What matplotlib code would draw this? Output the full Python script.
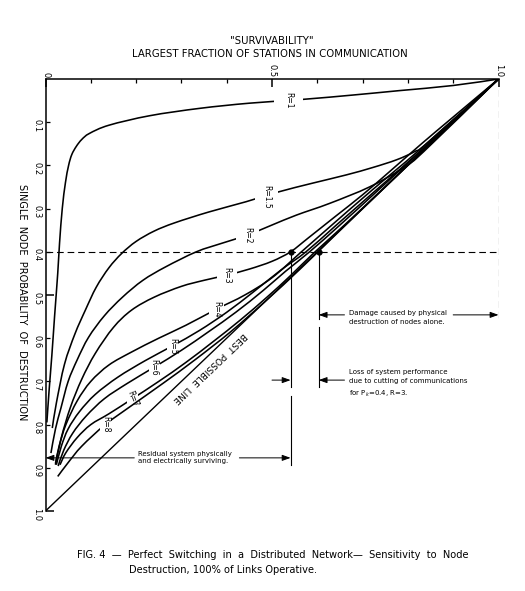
import numpy as np
import matplotlib
matplotlib.use("Agg")
import matplotlib.pyplot as plt
from matplotlib.path import Path
from matplotlib.patches import PathPatch

# Curves: x = largest fraction of stations in communication,
# y = single node probability of destruction
r1_x = [0.003, 0.008, 0.014, 0.020, 0.027, 0.031, 0.037, 0.044, 0.051, 0.058, 0.068,
        0.080, 0.097, 0.140, 0.230, 0.340, 0.450, 0.570, 0.680, 0.780, 0.900, 1.0]
r1_y = [0.795, 0.720, 0.640, 0.550, 0.450, 0.380, 0.300, 0.240, 0.200, 0.175, 0.156,
        0.140, 0.126, 0.107, 0.085, 0.068, 0.056, 0.047, 0.037, 0.027, 0.015, 0.0]

r15_x = [0.015, 0.024, 0.042, 0.065, 0.088, 0.112, 0.140, 0.168, 0.200, 0.240, 0.285,
         0.360, 0.443, 0.512, 0.590, 0.664, 0.722, 0.775, 0.815, 0.845, 1.0]
r15_y = [0.808, 0.750, 0.660, 0.590, 0.535, 0.482, 0.437, 0.404, 0.376, 0.352, 0.333,
         0.308, 0.284, 0.262, 0.241, 0.222, 0.205, 0.187, 0.168, 0.146, 0.0]

r2_x = [0.012, 0.022, 0.034, 0.050, 0.070, 0.095, 0.130, 0.170, 0.215, 0.265, 0.333,
        0.390, 0.446, 0.500, 0.554, 0.627, 0.715, 0.788, 0.835, 1.0]
r2_y = [0.866, 0.810, 0.762, 0.700, 0.650, 0.598, 0.548, 0.505, 0.466, 0.435, 0.400,
        0.380, 0.361, 0.338, 0.315, 0.288, 0.250, 0.207, 0.168, 0.0]

r3_x = [0.022, 0.035, 0.055, 0.080, 0.110, 0.150, 0.190, 0.240, 0.300, 0.350, 0.400,
        0.450, 0.500, 0.541, 0.580, 0.640, 0.700, 0.760, 0.830, 0.900, 1.0]
r3_y = [0.893, 0.830, 0.760, 0.695, 0.635, 0.575, 0.535, 0.505, 0.480, 0.466, 0.454,
        0.440, 0.422, 0.400, 0.368, 0.318, 0.268, 0.214, 0.150, 0.088, 0.0]

r4_x = [0.022, 0.030, 0.045, 0.070, 0.100, 0.140, 0.190, 0.250, 0.310, 0.377, 0.440,
        0.500, 0.565, 0.630, 0.720, 0.830, 1.0]
r4_y = [0.890, 0.850, 0.800, 0.745, 0.700, 0.662, 0.632, 0.600, 0.570, 0.533, 0.500,
        0.460, 0.400, 0.340, 0.258, 0.160, 0.0]

r5_x = [0.024, 0.035, 0.050, 0.075, 0.110, 0.160, 0.220, 0.280, 0.340, 0.400, 0.460,
        0.520, 0.575, 0.640, 0.730, 0.840, 1.0]
r5_y = [0.893, 0.850, 0.810, 0.770, 0.730, 0.690, 0.652, 0.618, 0.582, 0.540, 0.492,
        0.442, 0.400, 0.340, 0.257, 0.155, 0.0]

r6_x = [0.028, 0.040, 0.060, 0.090, 0.130, 0.180, 0.240, 0.300, 0.360, 0.420, 0.480,
        0.530, 0.583, 0.650, 0.740, 0.850, 1.0]
r6_y = [0.896, 0.860, 0.820, 0.780, 0.740, 0.705, 0.667, 0.628, 0.585, 0.540, 0.490,
        0.445, 0.400, 0.338, 0.252, 0.146, 0.0]

r7_x = [0.032, 0.045, 0.070, 0.100, 0.140, 0.192, 0.250, 0.310, 0.370, 0.430, 0.490,
        0.540, 0.590, 0.660, 0.750, 0.860, 1.0]
r7_y = [0.893, 0.865, 0.830, 0.800, 0.775, 0.740, 0.700, 0.656, 0.608, 0.558, 0.504,
        0.456, 0.405, 0.338, 0.249, 0.139, 0.0]

r8_x = [0.027, 0.050, 0.080, 0.132, 0.190, 0.260, 0.330, 0.410, 0.490, 0.560, 0.630,
        0.730, 0.860, 1.0]
r8_y = [0.920, 0.888, 0.850, 0.800, 0.756, 0.704, 0.650, 0.584, 0.510, 0.442, 0.371,
        0.270, 0.140, 0.0]

curves_x = [r1_x, r15_x, r2_x, r3_x, r4_x, r5_x, r6_x, r7_x, r8_x]
curves_y = [r1_y, r15_y, r2_y, r3_y, r4_y, r5_y, r6_y, r7_y, r8_y]
curve_names = ['R=1', 'R=1.5', 'R=2', 'R=3', 'R=4', 'R=5', 'R=6', 'R=7', 'R=8']
label_x = [0.537, 0.488, 0.446, 0.400, 0.377, 0.280, 0.240, 0.192, 0.132]
label_y = [0.049, 0.272, 0.362, 0.454, 0.533, 0.618, 0.667, 0.740, 0.800]
label_rot = [-90, -90, -90, -90, -90, -90, -90, -68, -90]

best_x = [0.0, 1.0]
best_y = [1.0, 0.0]

# P_k = 0.4, R = 3 example
pk = 0.4
dot_x = [0.541, 0.603]

x_ticks = [0.0, 0.5, 1.0]
x_tick_labels = ['0', '0.5', '1.0']
x_minor = [0.1, 0.2, 0.3, 0.4, 0.6, 0.7, 0.8, 0.9]
y_ticks = [0.5, 1.0]
y_tick_labels = ['0.5', '1.0']
y_minor = [0.1, 0.2, 0.3, 0.4, 0.6, 0.7, 0.8, 0.9]
y_minor_labels = ['0.1', '0.2', '0.3', '0.4', '0.6', '0.7', '0.8', '0.9']


def smooth_path(xs, ys):
    # Catmull-Rom through the read points, drawn as cubic Beziers
    pts = np.column_stack([xs, ys])
    p = np.vstack([pts[0], pts, pts[-1]])
    verts = [pts[0]]
    codes = [Path.MOVETO]
    for i in range(1, len(p) - 2):
        c1 = p[i] + (p[i + 1] - p[i - 1]) / 6
        c2 = p[i + 1] - (p[i + 2] - p[i]) / 6
        verts += [c1, c2, p[i + 1]]
        codes += [Path.CURVE4] * 3
    return Path(verts, codes)


def gap_path(xc, yc, hw, hh):
    # whole plane minus a small box round a curve label
    outer = [(-1, -1), (2, -1), (2, 2), (-1, 2), (-1, -1)]
    inner = [(xc - hw, yc - hh), (xc - hw, yc + hh), (xc + hw, yc + hh),
             (xc + hw, yc - hh), (xc - hw, yc - hh)]
    codes = [Path.MOVETO, Path.LINETO, Path.LINETO, Path.LINETO, Path.CLOSEPOLY]
    return Path(outer + inner, codes + codes)


fig = plt.figure(figsize=(5.25, 5.91), dpi=100)
ax = fig.add_axes([45.5 / 525, 80 / 591, 453 / 525, 432 / 591])
ax.set_xlim(0, 1)
ax.set_ylim(1, 0)

gap_w = [0.032, 0.026, 0.026, 0.022, 0.016, 0.012, 0.012, 0.012, 0.012]
for cx, cy, name, lx, ly, rot, gw in zip(curves_x, curves_y, curve_names,
                                        label_x, label_y, label_rot, gap_w):
    patch = PathPatch(smooth_path(cx, cy), fill=False, ec='k', lw=1.15,
                      capstyle='butt', joinstyle='round')
    ax.add_patch(patch)
    patch.set_clip_path(gap_path(lx, ly, gw, 0.02), ax.transData)
    ax.text(lx, ly, name, rotation=rot, ha='center', va='center', fontsize=5.5)

ax.plot(best_x, best_y, color='k', lw=1.0)

# text along the best possible line
p0 = ax.transData.transform((best_x[0], best_y[0]))
p1 = ax.transData.transform((best_x[1], best_y[1]))
ang = np.degrees(np.arctan2(p0[1] - p1[1], p0[0] - p1[0]))
ax.text(0.362, 0.668, 'BEST  POSSIBLE  LINE', rotation=ang, rotation_mode='anchor',
        ha='center', va='center', fontsize=6.5)

# dashed guides
dash = (0, (6, 3.5))
ax.plot([0, 1], [pk, pk], color='k', lw=0.8, ls=dash)
ax.plot([1, 1], [0, 0.555], color='k', lw=0.8, ls=dash)
ax.plot(dot_x, [pk, pk], 'o', color='k', ms=3.5)

# dimension lines
ax.plot([dot_x[0], dot_x[0]], [pk, 0.713], color='k', lw=0.8)
ax.plot([dot_x[0], dot_x[0]], [0.733, 0.893], color='k', lw=0.8)
ax.plot([dot_x[1], dot_x[1]], [pk, 0.556], color='k', lw=0.8)
ax.plot([dot_x[1], dot_x[1]], [0.574, 0.713], color='k', lw=0.8)

arrow = dict(arrowstyle='-|>,head_length=0.5,head_width=0.18', color='k', lw=0.7,
             shrinkA=0, shrinkB=0)
ax.annotate('', xy=(dot_x[1], 0.546), xytext=(0.66, 0.546), arrowprops=arrow)
ax.annotate('', xy=(1.0, 0.546), xytext=(0.90, 0.546), arrowprops=arrow)
ax.annotate('', xy=(dot_x[1], 0.697), xytext=(0.66, 0.697), arrowprops=arrow)
ax.annotate('', xy=(dot_x[0], 0.697), xytext=(0.50, 0.697), arrowprops=arrow)
ax.annotate('', xy=(0.0, 0.877), xytext=(0.196, 0.877), arrowprops=arrow)
ax.annotate('', xy=(dot_x[0], 0.877), xytext=(0.428, 0.877), arrowprops=arrow)

ax.text(0.671, 0.551, 'Damage caused by physical\ndestruction of nodes alone.',
        ha='left', va='center', fontsize=5, linespacing=1.6)
ax.text(0.671, 0.706, 'Loss of system performance\ndue to cutting of communications\n'
        'for P$_k$=0.4, R=3.', ha='left', va='center', fontsize=5, linespacing=1.6)
ax.text(0.205, 0.876, 'Residual system physically\nand electrically surviving.',
        ha='left', va='center', fontsize=5, linespacing=1.3)

# axes on top and left only
for side in ['right', 'bottom']:
    ax.spines[side].set_visible(False)
for side in ['left', 'top']:
    ax.spines[side].set_linewidth(1.1)

ax.xaxis.set_ticks_position('top')
ax.set_xticks(x_ticks, labels=x_tick_labels)
ax.set_xticks(x_minor, minor=True)
ax.set_yticks(y_ticks, labels=y_tick_labels)
ax.set_yticks(y_minor, labels=y_minor_labels, minor=True)
ax.tick_params(axis='x', which='major', direction='in', length=6, width=1.1, pad=1,
               labelsize=6, labelrotation=-90)
ax.tick_params(axis='x', which='minor', direction='in', length=3, width=0.9)
ax.tick_params(axis='y', which='major', direction='in', length=6, width=1.1, pad=3,
               labelsize=6, labelrotation=-90)
ax.tick_params(axis='y', which='minor', direction='in', length=3, width=0.9, pad=3,
               labelsize=6, labelrotation=-90)

fig.text(22 / 525, 1 - 302 / 591, 'SINGLE  NODE  PROBABILITY  OF  DESTRUCTION',
         rotation=-90, ha='center', va='center', fontsize=7)
fig.text(272 / 525, 1 - 41 / 591, '"SURVIVABILITY"', ha='center', va='center', fontsize=7.3)
fig.text(270 / 525, 1 - 54 / 591, 'LARGEST FRACTION OF STATIONS IN COMMUNICATION',
         ha='center', va='center', fontsize=7.3)

fig.text(77 / 525, 1 - 555 / 591,
         'FIG. 4  \u2014  Perfect  Switching  in  a  Distributed  Network\u2014  Sensitivity  to  Node',
         ha='left', va='center', fontsize=7.1)
fig.text(129 / 525, 1 - 570 / 591, 'Destruction, 100% of Links Operative.',
         ha='left', va='center', fontsize=7.1)

fig.savefig('out.png', dpi=100)
